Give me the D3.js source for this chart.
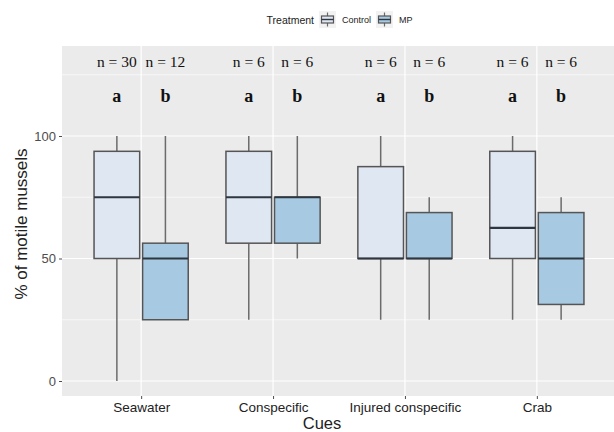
<!DOCTYPE html>
<html><head><meta charset="utf-8">
<script src="https://cdn.jsdelivr.net/npm/d3@7"></script>
<style>html,body{margin:0;padding:0;background:#fff;}svg{display:block;}</style>
</head><body>
<script>
const categories = ["Seawater", "Conspecific", "Injured conspecific", "Crab"];
const groups = ["Control", "MP"];
const controlMin = [0, 25, 25, 25];
const controlQ1 = [50, 56.25, 50, 50];
const controlMed = [75, 75, 50, 62.5];
const controlQ3 = [93.75, 93.75, 87.5, 93.75];
const controlMax = [100, 100, 100, 100];
const mpMin = [25, 50, 25, 25];
const mpQ1 = [25, 56.25, 50, 31.25];
const mpMed = [50, 75, 50, 50];
const mpQ3 = [56.25, 75, 68.75, 68.75];
const mpMax = [100, 100, 75, 75];
const nControl = [30, 6, 6, 6];
const nMP = [12, 6, 6, 6];
const letterControl = ["a", "a", "a", "a"];
const letterMP = ["b", "b", "b", "b"];
const yTicks = [0, 50, 100];
const yMinor = [25, 75, 125];

const W = 614, H = 432;
const panel = {left: 62, right: 616, top: 46, bottom: 396};
const fills = {Control: "#dfe7f2", MP: "#a7cae2"};

const svg = d3.select("body").append("svg").attr("width", W).attr("height", H);

const x = d3.scalePoint().domain(categories).range([panel.left, panel.right]).padding(0.6);
const step = x.step();
const inner = d3.scaleBand().domain(groups).range([-0.357 * step, 0.357 * step]).paddingInner(0.06);
const y = d3.scaleLinear().domain([0, 100]).range([381, 136]);

// panel
svg.append("rect").attr("x", panel.left).attr("y", panel.top)
  .attr("width", panel.right - panel.left).attr("height", panel.bottom - panel.top).attr("fill", "#ebebeb");

const grid = svg.append("g");
grid.selectAll(".minor").data(yMinor).join("line")
  .attr("x1", panel.left).attr("x2", panel.right)
  .attr("y1", d => y(d)).attr("y2", d => y(d))
  .attr("stroke", "#fff").attr("stroke-width", 0.6);
grid.selectAll(".major").data(yTicks).join("line")
  .attr("x1", panel.left).attr("x2", panel.right)
  .attr("y1", d => y(d)).attr("y2", d => y(d))
  .attr("stroke", "#fff").attr("stroke-width", 1.2);
grid.selectAll(".vmajor").data(categories).join("line")
  .attr("x1", d => x(d)).attr("x2", d => x(d))
  .attr("y1", panel.top).attr("y2", panel.bottom)
  .attr("stroke", "#fff").attr("stroke-width", 1.2);

// boxes
const rows = [];
categories.forEach((c, i) => {
  rows.push({cat: c, grp: "Control", min: controlMin[i], q1: controlQ1[i], med: controlMed[i], q3: controlQ3[i], max: controlMax[i], n: nControl[i], letter: letterControl[i]});
  rows.push({cat: c, grp: "MP", min: mpMin[i], q1: mpQ1[i], med: mpMed[i], q3: mpQ3[i], max: mpMax[i], n: nMP[i], letter: letterMP[i]});
});
const bx = d => x(d.cat) + inner(d.grp);
const bc = d => bx(d) + inner.bandwidth() / 2;

const g = svg.append("g");
const boxes = g.selectAll("g.box").data(rows).join("g");
boxes.append("line").attr("x1", bc).attr("x2", bc)
  .attr("y1", d => y(d.max)).attr("y2", d => y(d.q3))
  .attr("stroke", "#6b6b6b").attr("stroke-width", 1.5);
boxes.append("line").attr("x1", bc).attr("x2", bc)
  .attr("y1", d => y(d.q1)).attr("y2", d => y(d.min))
  .attr("stroke", "#6b6b6b").attr("stroke-width", 1.5);
boxes.append("rect").attr("x", bx).attr("width", inner.bandwidth())
  .attr("y", d => y(d.q3)).attr("height", d => y(d.q1) - y(d.q3))
  .attr("fill", d => fills[d.grp]).attr("stroke", "#555").attr("stroke-width", 1.5);
boxes.append("line").attr("x1", bx).attr("x2", d => bx(d) + inner.bandwidth())
  .attr("y1", d => y(d.med)).attr("y2", d => y(d.med))
  .attr("stroke", "#2e3640").attr("stroke-width", 2.2);

// annotations
g.selectAll("text.n").data(rows).join("text")
  .attr("x", bc).attr("y", 67).attr("text-anchor", "middle")
  .attr("font-family", "Liberation Serif, Times New Roman, serif").attr("font-size", 15.5)
  .attr("fill", "#111").text(d => `n = ${d.n}`);
g.selectAll("text.l").data(rows).join("text")
  .attr("x", bc).attr("y", 102).attr("text-anchor", "middle")
  .attr("font-family", "Liberation Serif, Times New Roman, serif").attr("font-size", 18)
  .attr("font-weight", "bold").attr("fill", "#111").text(d => d.letter);

// axes
const yAxis = svg.append("g").attr("transform", `translate(${panel.left},0)`)
  .call(d3.axisLeft(y).tickValues(yTicks).tickSize(3).tickPadding(3));
yAxis.select(".domain").remove();
yAxis.selectAll("line").attr("stroke", "#4d4d4d");
yAxis.selectAll("text").attr("fill", "#4d4d4d").attr("font-family", "Liberation Sans, Arial, sans-serif").attr("font-size", 13);

const xAxis = svg.append("g").attr("transform", `translate(0,${panel.bottom})`)
  .call(d3.axisBottom(x).tickSize(3).tickPadding(3));
xAxis.select(".domain").remove();
xAxis.selectAll("line").attr("stroke", "#4d4d4d");
xAxis.selectAll("text").attr("fill", "#222").attr("font-family", "Liberation Sans, Arial, sans-serif").attr("font-size", 13.5);

svg.append("text").attr("x", 322).attr("y", 425).attr("text-anchor", "middle").attr("dominant-baseline", "middle")
  .attr("font-family", "Liberation Sans, Arial, sans-serif").attr("font-size", 16.5).attr("fill", "#222").text("Cues");
svg.append("text").attr("transform", `translate(27,224) rotate(-90)`).attr("text-anchor", "middle")
  .attr("font-family", "Liberation Sans, Arial, sans-serif").attr("font-size", 17).attr("fill", "#222").text("% of motile mussels");

// legend
const leg = svg.append("g").attr("font-family", "Liberation Sans, Arial, sans-serif");
leg.append("text").attr("x", 314).attr("y", 24).attr("text-anchor", "end").attr("font-size", 10.5).attr("fill", "#222").text("Treatment");
const keyX = {Control: 319, MP: 376};
groups.forEach(grp => {
  const kx = keyX[grp];
  const k = leg.append("g").attr("transform", `translate(${kx},11)`);
  k.append("rect").attr("width", 17).attr("height", 17).attr("fill", "#f2f2f2");
  k.append("line").attr("x1", 8.5).attr("x2", 8.5).attr("y1", 1.5).attr("y2", 15.5).attr("stroke", "#6b6b6b").attr("stroke-width", 1.2);
  k.append("rect").attr("x", 2.5).attr("y", 5).attr("width", 12).attr("height", 7).attr("fill", fills[grp]).attr("stroke", "#555").attr("stroke-width", 1.2);
  k.append("line").attr("x1", 2.5).attr("x2", 14.5).attr("y1", 8.5).attr("y2", 8.5).attr("stroke", "#2e3640").attr("stroke-width", 1.4);
  leg.append("text").attr("x", kx + 23).attr("y", 23).attr("font-size", 9).attr("fill", "#222").text(grp);
});
</script>
</body></html>
